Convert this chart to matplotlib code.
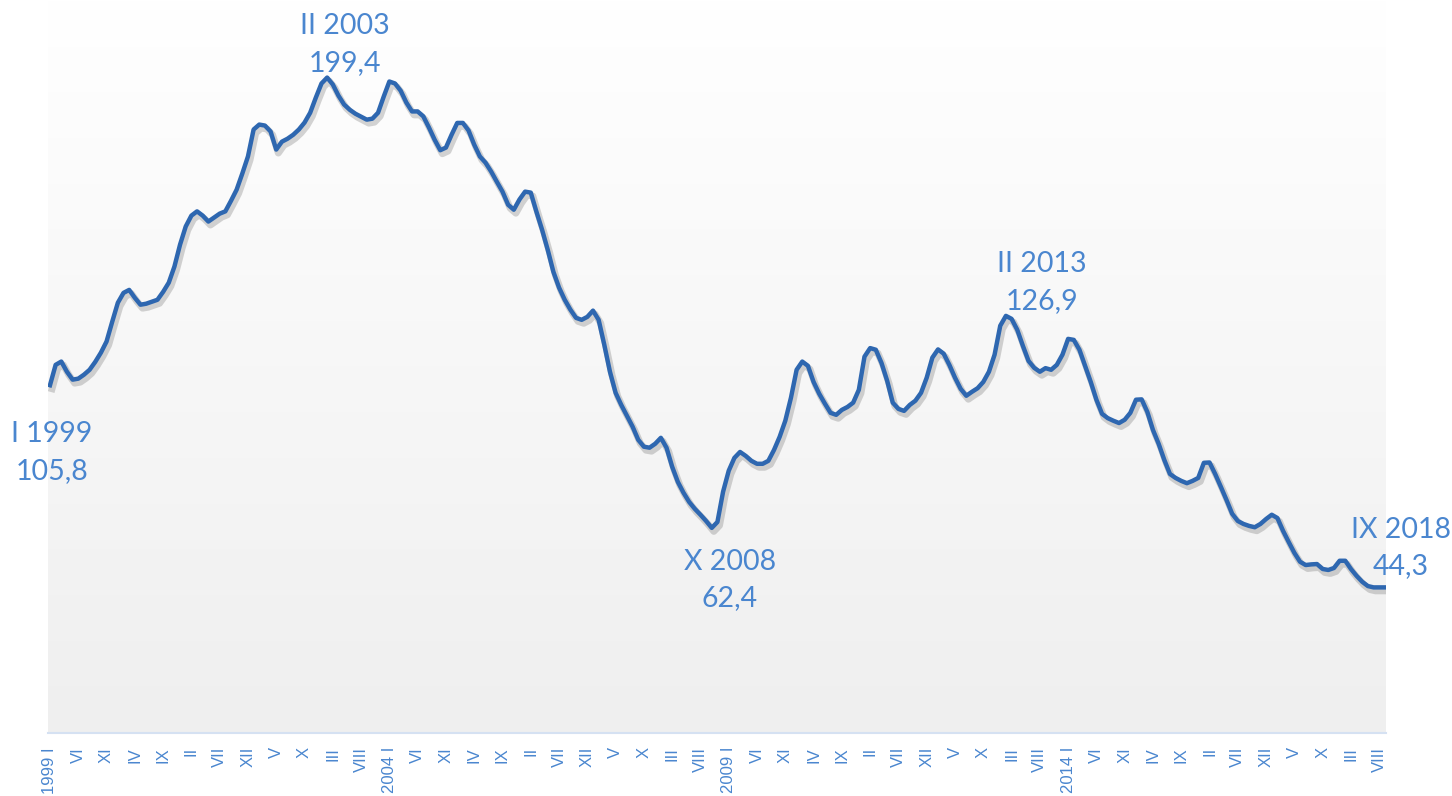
import numpy as np
import matplotlib
matplotlib.use("Agg")
import matplotlib.pyplot as plt
import matplotlib.patheffects as pe
from matplotlib.colors import LinearSegmentedColormap

# monthly values, I 1999 .. IX 2018
values = [
    105.8, 112.0, 113.0, 109.9, 107.5, 107.8, 109.0, 110.5, 112.9, 115.7,
    119.1, 125.1, 130.9, 133.9, 134.8, 132.4, 130.3, 130.6, 131.2, 131.8,
    134.2, 137.0, 141.9, 148.6, 154.1, 157.4, 158.7, 157.4, 155.6, 156.8,
    158.0, 158.7, 161.9, 165.3, 170.2, 175.4, 183.6, 185.1, 184.8, 183.0,
    177.5, 179.9, 180.8, 182.0, 183.6, 185.7, 188.7, 193.3, 197.6, 199.4,
    197.3, 193.9, 191.2, 189.6, 188.4, 187.5, 186.6, 186.9, 188.7, 193.6,
    198.2, 197.6, 195.4, 191.8, 189.1, 189.1, 187.6, 184.2, 180.5, 177.3,
    178.1, 182.0, 185.6, 185.6, 183.3, 179.0, 175.4, 173.5, 170.8, 167.7,
    164.7, 160.7, 159.2, 162.3, 164.7, 164.4, 158.6, 153.1, 147.0, 140.3,
    135.5, 131.8, 128.8, 126.3, 125.7, 126.6, 128.5, 125.7, 118.1, 109.9,
    103.5, 99.8, 96.5, 93.2, 89.2, 87.1, 86.8, 88.0, 89.8, 86.8,
    81.0, 76.4, 73.1, 70.3, 68.2, 66.4, 64.5, 62.4, 64.2, 73.4,
    79.8, 83.7, 85.5, 84.3, 82.8, 81.9, 81.9, 82.8, 86.1, 90.1,
    95.0, 102.0, 110.5, 113.0, 111.7, 106.8, 103.2, 100.2, 97.4, 96.8,
    98.3, 99.2, 100.5, 104.4, 114.5, 117.1, 116.6, 112.6, 107.2, 100.5,
    98.6, 98.0, 99.8, 101.1, 103.5, 108.1, 114.2, 116.7, 115.4, 112.0,
    108.1, 104.7, 102.6, 103.8, 104.9, 106.8, 109.9, 115.1, 123.9, 126.9,
    126.0, 122.7, 117.8, 113.2, 111.1, 109.9, 111.0, 110.5, 112.0, 115.1,
    119.9, 119.6, 116.6, 111.7, 106.8, 101.4, 97.1, 95.8, 95.0, 94.3,
    95.3, 97.4, 101.4, 101.5, 97.7, 92.2, 88.0, 83.1, 78.8, 77.6,
    76.7, 76.0, 76.7, 77.6, 82.2, 82.3, 78.8, 74.9, 70.9, 66.7,
    64.5, 63.6, 63.0, 62.6, 63.6, 65.1, 66.4, 65.4, 61.5, 58.1,
    54.8, 52.1, 51.1, 51.3, 51.4, 49.9, 49.6, 50.2, 52.4, 52.4,
    49.9, 47.8, 46.0, 44.7, 44.3, 44.3, 44.3,
]

roman = ["I", "II", "III", "IV", "V", "VI", "VII", "VIII", "IX", "X", "XI", "XII"]
start_year = 1999
tick_pos = list(range(0, len(values), 5))
tick_labels = [(f"{start_year + m // 12} I" if m % 12 == 0 else roman[m % 12]) for m in tick_pos]

# highlighted points: index, label
ann_idx = [0, 49, 117, 169, 236]
ann_text = ["I 1999\n105,8", "II 2003\n199,4", "X 2008\n62,4", "II 2013\n126,9", "IX 2018\n44,3"]
ann_offset = [(2, -36), (18, 2), (18, -21), (36, 2), (16, 8)]
ann_va = ["top", "bottom", "top", "bottom", "bottom"]

line_color = "#2e67b0"
text_color = "#4a86cf"

fig = plt.figure(figsize=(14.52, 7.96), dpi=100)
ax = fig.add_axes([48 / 1452, 63 / 796, (1386 - 48) / 1452, (796 - 63) / 796])

x = np.arange(len(values))
xmin, xmax, ymin, ymax = -0.35, 236.2, 0, 223

# background gradient: white at top -> light gray at bottom
cmap = LinearSegmentedColormap.from_list("bg", ["#ffffff", "#efefef"])
grad = np.linspace(0, 1, 256).reshape(-1, 1)
ax.imshow(grad, extent=[xmin, xmax, ymin, ymax], origin="upper", aspect="auto", cmap=cmap, zorder=0)

ax.plot(x, values, color=line_color, lw=3.2, solid_joinstyle="round", zorder=3,
        path_effects=[pe.SimpleLineShadow(offset=(1.5, -2.5), shadow_color="#555555", alpha=0.25, linewidth=5),
                      pe.Normal()])

for i, t, off, va in zip(ann_idx, ann_text, ann_offset, ann_va):
    ax.annotate(t, (x[i], values[i]), xytext=off, textcoords="offset pixels",
                ha="center", va=va, color=text_color, fontsize=20.5, family="Lato",
                linespacing=1.5, annotation_clip=False)

ax.set_xlim(xmin, xmax)
ax.set_ylim(ymin, ymax)
ax.set_xticks(tick_pos)
ax.set_xticklabels(tick_labels, rotation=90, fontsize=12, color=text_color, family="Liberation Sans")
ax.tick_params(axis="x", length=0, pad=10)
ax.set_yticks([])
for s in ["top", "left", "right"]:
    ax.spines[s].set_visible(False)
ax.spines["bottom"].set_color("#d5e1f2")
ax.spines["bottom"].set_linewidth(1.5)

fig.savefig("out.png", dpi=100)
